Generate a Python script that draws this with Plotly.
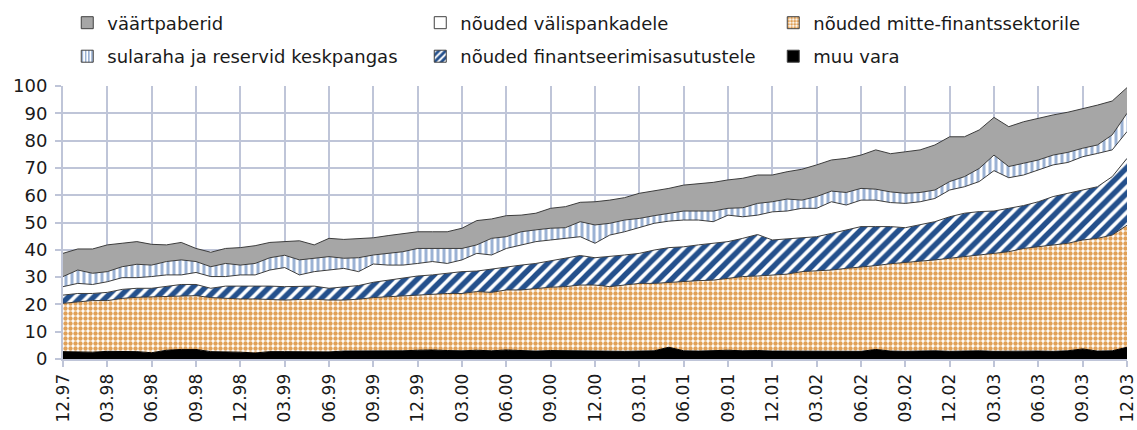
import plotly.graph_objects as go
import pandas as pd

# Monthly categories 12.97 ... 12.03
months = [d.strftime("%m.%y") for d in pd.date_range("1997-12-01", "2003-12-01", freq="MS")]
tick_labels = ["12.97", "03.98", "06.98", "09.98", "12.98", "03.99", "06.99", "09.99",
               "12.99", "03.00", "06.00", "09.00", "12.00", "03.01", "06.01", "09.01",
               "12.01", "03.02", "06.02", "09.02", "12.02", "03.03", "06.03", "09.03", "12.03"]

muu_vara = [2.7, 2.7, 2.5, 2.8, 2.8, 2.7, 2.3, 3.2, 3.5, 3.5, 2.7, 2.7, 2.5, 2.2, 2.7, 2.7, 2.7,
            2.8, 2.6, 2.9, 2.9, 2.9, 2.8, 3.0, 3.2, 3.3, 3.1, 3.0, 3.2, 3.0, 3.3, 3.0, 2.9, 3.1, 3.0, 2.9, 3.0,
            2.9, 2.8, 2.9, 3.0, 4.3, 3.0, 2.9, 3.0, 3.2, 3.0, 3.1, 2.9, 2.9, 2.8, 3.0, 2.9, 3.0, 2.8, 3.5, 2.9,
            2.8, 2.9, 3.0, 2.8, 2.9, 3.0, 2.8, 2.9, 3.0, 2.9, 2.8, 3.0, 3.7, 2.9, 3.0, 4.3]

mitte_finants = [17.7, 18.3, 18.9, 18.6, 19.4, 19.9, 20.5, 19.6, 19.7, 19.7, 19.8, 19.5, 19.5, 19.8, 19.2, 18.9, 19.1,
                 19.1, 19.0, 18.7, 19.0, 19.6, 20.0, 20.1, 20.2, 20.4, 20.9, 21.0, 21.5, 21.4, 22.0, 22.3, 23.0, 23.2, 23.5, 24.2, 24.1,
                 23.6, 24.3, 24.8, 24.7, 23.8, 25.3, 25.8, 25.9, 26.3, 27.2, 27.3, 27.9, 28.2, 29.2, 29.2, 29.7, 30.2, 30.8, 30.7, 32.0,
                 32.5, 32.8, 33.3, 34.1, 34.6, 35.1, 35.9, 36.4, 37.5, 38.2, 39.0, 39.4, 39.9, 41.3, 42.4, 44.7]

finantseerimis = [3.0, 3.0, 2.6, 3.0, 3.3, 3.3, 3.1, 3.7, 4.1, 4.1, 3.4, 4.5, 4.7, 4.9, 4.8, 4.9, 4.8,
                  4.8, 4.3, 4.7, 5.0, 5.6, 6.1, 6.4, 7.0, 7.1, 7.4, 8.0, 7.5, 8.6, 8.5, 9.1, 9.1, 9.6, 10.4, 10.8, 10.0,
                  11.0, 11.0, 11.0, 12.2, 12.7, 12.8, 13.1, 13.5, 13.5, 14.0, 15.2, 12.8, 12.9, 12.2, 12.6, 13.4, 14.1, 14.9, 14.3, 13.6,
                  12.8, 13.4, 14.0, 15.2, 15.9, 15.9, 15.5, 15.9, 15.7, 16.5, 17.7, 18.3, 18.3, 18.9, 21.4, 24.5]

valispank = [3.1, 3.7, 3.3, 3.9, 4.3, 3.9, 4.3, 4.3, 3.5, 4.4, 4.3, 3.5, 4.1, 3.9, 5.9, 7.0, 4.2,
             5.3, 6.7, 6.9, 5.1, 6.7, 5.5, 4.9, 4.6, 4.9, 3.6, 4.3, 6.5, 5.1, 6.7, 7.4, 8.0, 7.7, 7.3, 6.9, 5.3,
             7.9, 8.5, 9.4, 9.8, 9.7, 9.8, 9.1, 7.9, 9.7, 7.9, 7.1, 10.3, 10.2, 11.0, 10.4, 11.6, 9.1, 9.7, 9.7, 8.8,
             8.9, 8.5, 8.5, 9.8, 9.7, 11.0, 14.8, 11.2, 11.2, 11.6, 11.6, 11.3, 12.2, 12.2, 9.8, 9.8]

sularaha = [3.7, 4.9, 4.1, 3.7, 4.0, 4.9, 4.2, 4.9, 5.5, 4.0, 3.6, 4.8, 3.6, 4.2, 4.5, 4.5, 5.5,
            4.9, 4.9, 3.7, 5.1, 3.3, 4.3, 4.9, 5.5, 4.8, 5.5, 4.2, 3.1, 6.1, 4.3, 4.8, 4.3, 4.3, 3.9, 5.5, 6.7,
            4.3, 4.3, 3.4, 2.8, 2.9, 3.3, 3.3, 3.9, 2.5, 3.3, 4.3, 3.7, 4.4, 3.0, 4.3, 3.9, 4.6, 4.3, 4.0, 3.9,
            3.7, 3.4, 3.1, 3.1, 3.7, 4.8, 5.7, 4.1, 4.3, 3.7, 3.6, 3.7, 3.1, 3.1, 5.5, 6.7]

vaartpaberid = [8.5, 7.7, 8.9, 9.8, 8.6, 8.3, 7.6, 6.1, 6.4, 4.8, 5.3, 5.5, 6.4, 6.5, 5.6, 5.0, 7.0,
                4.9, 6.7, 6.9, 6.9, 6.3, 6.5, 6.7, 6.1, 6.1, 6.1, 7.4, 8.9, 7.1, 7.7, 6.1, 6.1, 7.3, 7.7, 7.1, 8.5,
                8.5, 8.2, 9.2, 9.0, 9.1, 9.5, 10.1, 10.5, 10.4, 10.8, 10.4, 9.8, 10.0, 11.3, 11.6, 11.4, 12.5, 12.2, 14.4, 14.0,
                15.2, 15.6, 16.5, 16.4, 14.6, 14.1, 13.8, 14.6, 15.2, 15.3, 14.7, 14.7, 14.4, 14.6, 12.4, 9.4]

names = {
    "vaart": "väärtpaberid",
    "valis": "nõuded välispankadele",
    "mitte": "nõuded mitte-finantssektorile",
    "sula": "sularaha ja reservid keskpangas",
    "fin": "nõuded finantseerimisasutustele",
    "muu": "muu vara",
}

EDGE = "#3c3c3c"
ORANGE = "#E0A057"
BLUE = "#24508C"
LBLUE = "#9BB2D4"
GRAY = "#A6A6A6"
GRID = "#BFC5D8"
FONT = "DejaVu Sans"

styles = {
    "muu": dict(fillcolor="#000000", pattern=None, line="#000000"),
    "mitte": dict(fillcolor=ORANGE, pattern=dict(shape=".", fgcolor=ORANGE, fgopacity=1, bgcolor="white", size=5, solidity=0.6), line=EDGE),
    "fin": dict(fillcolor=BLUE, pattern=dict(shape="/", fgcolor=BLUE, fgopacity=1, bgcolor="white", size=9, solidity=0.6), line=EDGE),
    "valis": dict(fillcolor="white", pattern=None, line=EDGE),
    "sula": dict(fillcolor=LBLUE, pattern=dict(shape="|", fgcolor=LBLUE, fgopacity=1, bgcolor="white", size=6, solidity=0.5), line=EDGE),
    "vaart": dict(fillcolor=GRAY, pattern=None, line=EDGE),
}

series = [("muu", muu_vara), ("mitte", mitte_finants), ("fin", finantseerimis),
          ("valis", valispank), ("sula", sularaha), ("vaart", vaartpaberid)]

fig = go.Figure()
for key, vals in series:
    st = styles[key]
    kw = dict(x=months, y=vals, mode="lines", stackgroup="one",
              line=dict(color=st["line"], width=1), fillcolor=st["fillcolor"],
              name=names[key], showlegend=False, hoverinfo="x+y+name")
    if st["pattern"]:
        kw["fillpattern"] = st["pattern"]
    fig.add_trace(go.Scatter(**kw))

# legend-only entries (square swatches)
legend_rows = [("legend", ["vaart", "valis", "mitte"]), ("legend2", ["sula", "fin", "muu"])]
for lg, keys in legend_rows:
    for key in keys:
        st = styles[key]
        marker = dict(color=st["fillcolor"], line=dict(color="#404040", width=1))
        if st["pattern"]:
            p = dict(st["pattern"])
            if key == "fin":
                p["size"] = 6
            if key == "sula":
                p["size"] = 4
            if key == "mitte":
                p["size"] = 4
            marker["pattern"] = p
        fig.add_trace(go.Bar(x=[None], y=[None], name=names[key], marker=marker,
                             showlegend=True, legend=lg, hoverinfo="skip"))

legend_common = dict(orientation="h", xref="paper", yref="paper", x=0.004, xanchor="left",
                     yanchor="middle", entrywidth=308, entrywidthmode="pixels",
                     font=dict(family=FONT, size=18, color="#1a1a1a"),
                     bgcolor="rgba(0,0,0,0)", itemwidth=30, traceorder="normal")

fig.update_layout(
    width=1137, height=430,
    margin=dict(l=63, r=10, t=86, b=71, autoexpand=False),
    paper_bgcolor="white", plot_bgcolor="white",
    showlegend=True,
    legend=dict(legend_common, y=1.2308),
    legend2=dict(legend_common, y=1.108),
    font=dict(family=FONT, color="#1a1a1a"),
    xaxis=dict(type="category", range=[0, len(months) - 1],
               tickmode="array", tickvals=tick_labels, ticktext=tick_labels,
               tickangle=-90, tickfont=dict(size=17),
               showgrid=True, gridcolor=GRID, gridwidth=2,
               showline=True, linecolor=GRID, linewidth=2,
               ticks="outside", ticklen=6, tickwidth=2, tickcolor=GRID, zeroline=False),
    yaxis=dict(range=[0, 100], dtick=10, tickfont=dict(size=18), ticklabelstandoff=4,
               showgrid=True, gridcolor=GRID, gridwidth=2,
               showline=True, linecolor=GRID, linewidth=2,
               ticks="outside", ticklen=6, tickwidth=2, tickcolor=GRID, zeroline=False),
)

fig.write_html("out.html", config={"displayModeBar": False},
               post_script="document.body.style.margin='0px';")
